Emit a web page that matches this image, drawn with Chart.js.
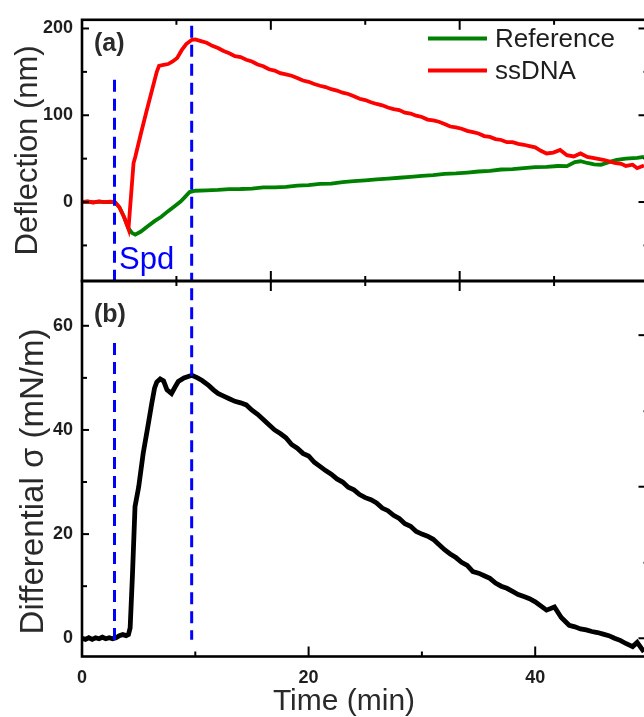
<!DOCTYPE html>
<html><head><meta charset="utf-8">
<script src="https://cdn.jsdelivr.net/npm/chart.js@4"></script>
<style>
html,body{margin:0;padding:0;overflow:hidden;background:#fff;width:644px;height:717px}
#wrap{position:relative;width:660px;height:717px}
canvas{position:absolute;left:0;top:0}
</style></head>
<body><div id="wrap"><canvas id="ca" width="660" height="717"></canvas><canvas id="cb" width="660" height="717"></canvas></div>
<script>
// ---------- DATA ----------
const seriesNames = ['Reference', 'ssDNA'];
const panelLabels = ['(a)', '(b)'];
const markerText = 'Spd';

const ssTime = [0,0.5,1,1.5,2,2.5,2.9,3.3,3.7,4.1,4.55,4.7,5.2,5.7,6.2,6.6,6.8,7.2,7.6,8.0,8.4,8.8,9.2,9.7,10,10.5,11,11.5,12,12.5,13,13.5,14,14.5,15,15.5,16,16.5,17,17.5,18,18.5,19,19.5,20,20.5,21,21.5,22,22.5,23,23.5,24,24.5,25,25.5,26,26.5,27,27.5,28,28.5,29,29.5,30,30.5,31,31.5,32,32.5,33,33.5,34,34.5,35,35.5,36,36.5,37,37.5,38,38.5,39,39.5,40,40.5,41,41.6,42.2,42.8,43.4,44,44.6,45.2,46,46.5,47,47.6,48,48.6,49,49.6];
const ssDefl = [0,0.6,-0.5,0.8,0,0.4,0,-6,-17,-31,45,52,79,105,130,150,157,158,159,162,166,175,182,187,187.5,185.5,183.5,180,177.5,174,171.5,168,167,164,162,158.5,156.5,153,151.5,148.5,147,145.5,143,140,138.5,136,134,132.5,130,128.5,126,124.5,122,119,117.5,115,113,111.5,109,107,106,103,102,99.5,98,95,94,92.5,90,87,86,84.5,82,80.5,79,76,75,72.5,71.5,69,69,67,66,64.5,63,59,56,57,60,54,52.5,56,52,50.5,48.7,47,45,44,41.6,43,39,42];

const refTime = [0,0.5,1,1.5,2,2.5,2.9,3.3,3.7,4.1,4.4,4.7,5.2,5.8,6.4,7.0,7.6,8.2,8.7,9.1,9.5,10,11,12,13,14,15,16,17,18,19,20,21,22,23,24,25,26,27,28,29,30,31,32,33,34,35,36,37,38,39,40,41,42,42.8,43.5,44,44.6,45.2,45.8,46.5,47.2,48,49,49.6];
const refDefl = [0,0.3,-0.4,0.5,0,0.2,0,-6,-17,-30,-35.5,-37.5,-34,-28,-22,-17,-10.5,-4.5,0.5,6,11.5,13,13.5,14,14.8,15,15.5,16.8,17,17.5,19,19.5,21,21.2,23,24,25,26.2,27,28,29,30.2,31,32.5,33,34,35.2,36,37.5,38,39,40.2,40.5,41.5,41.3,46,47,45,43.5,43,46,48.7,50,51,52];

const diffTime = [0,0.3,0.6,0.9,1.2,1.5,1.8,2.1,2.4,2.7,3.0,3.3,3.6,3.9,4.1,4.25,4.45,4.68,5.0,5.4,5.8,6.15,6.4,6.6,6.9,7.2,7.5,7.9,8.2,8.5,9,9.7,10.2,10.6,11.2,11.6,12,12.5,13,13.5,14,14.5,15,15.5,16,16.5,17,17.5,18,18.5,19,19.5,20,20.5,21,21.5,22,22.5,23,23.5,24,24.5,25,25.5,26,26.5,27,27.5,28,28.5,29,29.5,30,30.5,31,31.5,32,32.5,33,33.5,34,34.5,35,35.5,36,36.5,37,37.5,38,38.5,39,39.5,40,41,41.7,42.3,43,43.5,44,44.5,45,45.5,46,46.5,47,47.5,48,48.6,49,49.6];
const diffSigma = [0,-0.2,0.1,-0.2,0.1,-0.1,0.2,-0.1,0.1,-0.1,0.1,0.5,0.7,0.5,0.7,2,12,25.3,29,35.5,40.5,45,48,49.2,49.8,49.4,47.7,47,48.2,49.3,50,50.5,50,49.5,48.5,47.7,47,46.5,46,45.5,45.2,44.8,43.8,43,42,41,40,39.3,38.5,37.2,36.5,35.5,35,33.8,33,32.2,31.5,30.6,30,29,28.5,27.6,27,26.6,26,25,24.5,23.6,23,22,21.5,20.5,20,19.6,19,18,17,16.2,15.5,14.6,14,12.8,12.5,12,11.5,10.6,10,9.6,9,8.4,8,7.6,7,5.4,6,4,2.5,2.2,1.8,1.6,1.3,1.1,0.8,0.5,0,-0.4,-1,-1.6,-0.8,-2.6];

// Spd markers (min) and their vertical extents
const markerTimes = [2.87, 9.68];
const markerTopA = [141, 203];
const markerTopB = [56.7, 67.2];
const markerBottomB = [-1.3, -0.3];

// axis ranges and ticks
const xRange = [0, 50];
const yRangeA = [-91, 210];
const yRangeB = [-3.5, 68.6];
const yMajorA = [0, 100, 200];
const yMinorA = [-50, 50, 150];
const yMajorB = [0, 20, 40, 60];
const yMinorB = [10, 30, 50];
const xMajorB = [0, 20, 40];
const xMinorB = [10, 30];
const secMajor = [0, 1000, 2000, 3000];   // seconds
const secMinor = [500, 1500, 2500];
const rightMajorB = [0, 29.1, 58.2];
const rightMinorB = [14.5, 43.6];

// ---------- STYLE ----------
const FONT = '"Liberation Sans", Arial, Helvetica, sans-serif';
const TXT = '#1e1e1e';
const COL_REF = '#008000', COL_SS = '#ff0000', COL_DIFF = '#000000', COL_MARK = '#0000ff';
const XMAJ = 10, XMIN = 5, YMAJ = 10, YMIN = 5, LMAJ = 7, LMIN = 5;

function pts(xs, ys) { return xs.map((x, i) => ({x: x, y: ys[i]})); }
function markerSet(i, top, bottom) {
  return {label: 'm' + i, data: [{x: markerTimes[i], y: top}, {x: markerTimes[i], y: bottom}],
    borderColor: COL_MARK, borderWidth: 3, borderDash: [12, 7], pointRadius: 0, order: 0, fill: false};
}
function fixWidth(w) { return s => { s.width = w; }; }
function fixHeight(h) { return s => { s.height = h; }; }
function setTicks(vals) { return s => { s.ticks = vals.map(v => ({value: v})); }; }

function line(ctx, x1, y1, x2, y2) { ctx.beginPath(); ctx.moveTo(x1, y1); ctx.lineTo(x2, y2); ctx.stroke(); }

function frameAndTicks(chart, cfg) {
  const ctx = chart.ctx, a = chart.chartArea, xs = chart.scales.x, ys = chart.scales.y;
  ctx.save();
  ctx.strokeStyle = '#000';
  ctx.lineWidth = 2.6;
  ctx.strokeRect(a.left, a.top, a.right - a.left, a.bottom - a.top);
  ctx.lineWidth = 2;
  cfg.xBottom.forEach(([v, len]) => { const p = xs.getPixelForValue(v); line(ctx, p, a.bottom, p, a.bottom - len); });
  cfg.xTop.forEach(([v, len]) => { const p = xs.getPixelForValue(v); line(ctx, p, a.top, p, a.top + len); });
  cfg.yLeft.forEach(([v, len]) => { const p = ys.getPixelForValue(v); line(ctx, a.left, p, a.left + len, p); });
  cfg.yRight.forEach(([v, len]) => { const p = ys.getPixelForValue(v); line(ctx, a.right, p, a.right - len, p); });
  ctx.restore();
}

const secToMin = s => s / 60;
const secTicks = secMajor.map(s => [secToMin(s), XMAJ]).concat(secMinor.map(s => [secToMin(s), XMIN]));
const tickFont = {family: FONT, size: 18, weight: 'bold'};

// ---------- PANEL (a) ----------
const plugA = {
  id: 'plugA',
  afterDatasetsDraw(chart) {
    frameAndTicks(chart, {
      xBottom: secTicks, xTop: secTicks,
      yLeft: yMajorA.map(v => [v, LMAJ]).concat(yMinorA.map(v => [v, LMIN])),
      yRight: yMajorA.map(v => [v, YMAJ]).concat(yMinorA.map(v => [v, YMIN]))
    });
  },
  afterDraw(chart) {
    const ctx = chart.ctx, ys = chart.scales.y;
    ctx.save();
    const cols = [COL_REF, COL_SS];
    const rowsY = [38.5, 70.5];
    seriesNames.forEach((n, i) => {
      ctx.strokeStyle = cols[i]; ctx.lineWidth = 4;
      line(ctx, 428, rowsY[i], 487, rowsY[i]);
      ctx.fillStyle = TXT; ctx.font = '26px ' + FONT; ctx.textBaseline = 'alphabetic'; ctx.textAlign = 'left';
      ctx.fillText(n, 495, rowsY[i] + 8.5);
    });
    ctx.font = 'bold 25px ' + FONT; ctx.fillStyle = '#2a2a2a';
    ctx.fillText(panelLabels[0], 94, 51);
    ctx.font = '31px ' + FONT; ctx.fillStyle = COL_MARK;
    ctx.fillText(markerText, 119, 269);
    ctx.fillStyle = '#2a2a2a'; ctx.font = '31px ' + FONT;
    ctx.translate(37, (ys.top + ys.bottom) / 2); ctx.rotate(-Math.PI / 2);
    ctx.textAlign = 'center';
    ctx.fillText('Deflection (nm)', 0, 0);
    ctx.restore();
  }
};

new Chart(document.getElementById('ca'), {
  type: 'line',
  data: {datasets: [
    markerSet(0, markerTopA[0], yRangeA[0]),
    markerSet(1, markerTopA[1], yRangeA[0]),
    {label: seriesNames[1], data: pts(ssTime, ssDefl), borderColor: COL_SS, borderWidth: 3.8, pointRadius: 0, order: 1, tension: 0},
    {label: seriesNames[0], data: pts(refTime, refDefl), borderColor: COL_REF, borderWidth: 3.8, pointRadius: 0, order: 2, tension: 0}
  ]},
  options: {
    responsive: false, animation: false, events: [],
    layout: {padding: {top: 13.5, right: 11.5, bottom: 436, left: 0}},
    plugins: {legend: {display: false}, tooltip: {enabled: false}},
    scales: {
      x: {type: 'linear', display: false, min: xRange[0], max: xRange[1]},
      y: {type: 'linear', min: yRangeA[0], max: yRangeA[1], afterFit: fixWidth(82), afterBuildTicks: setTicks(yMajorA),
          grid: {display: false, drawTicks: false}, border: {display: false},
          ticks: {padding: 9, color: TXT, font: tickFont}}
    }
  },
  plugins: [plugA]
});

// ---------- PANEL (b) ----------
const plugB = {
  id: 'plugB',
  afterDatasetsDraw(chart) {
    frameAndTicks(chart, {
      xBottom: xMajorB.map(v => [v, XMAJ]).concat(xMinorB.map(v => [v, XMIN])),
      xTop: secTicks,
      yLeft: yMajorB.map(v => [v, LMAJ]).concat(yMinorB.map(v => [v, LMIN])),
      yRight: rightMajorB.map(v => [v, YMAJ]).concat(rightMinorB.map(v => [v, YMIN]))
    });
  },
  afterDraw(chart) {
    const ctx = chart.ctx;
    ctx.save();
    ctx.font = 'bold 25px ' + FONT; ctx.fillStyle = '#2a2a2a'; ctx.textAlign = 'left';
    ctx.fillText(panelLabels[1], 94, 322);
    ctx.font = '30px ' + FONT;
    ctx.textAlign = 'center';
    ctx.fillText('Time (min)', 344, 710);
    ctx.font = '33px ' + FONT;
    ctx.translate(43, 481.5); ctx.rotate(-Math.PI / 2);
    ctx.fillText('Differential σ (mN/m)', 0, 0);
    ctx.restore();
  }
};

new Chart(document.getElementById('cb'), {
  type: 'line',
  data: {datasets: [
    markerSet(0, markerTopB[0], markerBottomB[0]),
    markerSet(1, markerTopB[1], markerBottomB[1]),
    {label: 'Differential', data: pts(diffTime, diffSigma), borderColor: COL_DIFF, borderWidth: 4.8, pointRadius: 0, order: 1, tension: 0}
  ]},
  options: {
    responsive: false, animation: false, events: [],
    layout: {padding: {top: 281, right: 11.5, bottom: 0, left: 0}},
    plugins: {legend: {display: false}, tooltip: {enabled: false}},
    scales: {
      x: {type: 'linear', min: xRange[0], max: xRange[1], afterFit: fixHeight(60.5), afterBuildTicks: setTicks(xMajorB),
          grid: {display: false, drawTicks: false}, border: {display: false},
          ticks: {padding: 11, color: TXT, maxRotation: 0, font: tickFont}},
      y: {type: 'linear', min: yRangeB[0], max: yRangeB[1], afterFit: fixWidth(82), afterBuildTicks: setTicks(yMajorB),
          grid: {display: false, drawTicks: false}, border: {display: false},
          ticks: {padding: 9, color: TXT, font: tickFont}}
    }
  },
  plugins: [plugB]
});
</script>
</body></html>
